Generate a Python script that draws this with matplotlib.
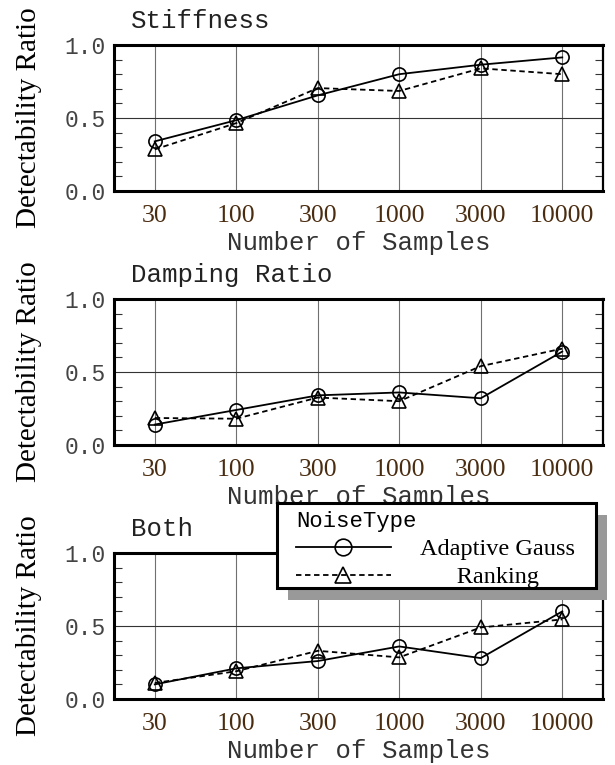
import numpy as np
import matplotlib
matplotlib.use("Agg")
import matplotlib.pyplot as plt
from matplotlib.lines import Line2D
from matplotlib.patches import Rectangle

# ---- data ----
sample_labels = ["30", "100", "300", "1000", "3000", "10000"]
panel_titles = ["Stiffness", "Damping Ratio", "Both"]

gauss_stiffness = [0.34, 0.485, 0.655, 0.80, 0.865, 0.915]
ranking_stiffness = [0.285, 0.465, 0.705, 0.685, 0.84, 0.80]

gauss_damping = [0.14, 0.24, 0.34, 0.36, 0.32, 0.64]
ranking_damping = [0.185, 0.18, 0.325, 0.30, 0.54, 0.66]

gauss_both = [0.10, 0.21, 0.26, 0.36, 0.28, 0.60]
ranking_both = [0.11, 0.19, 0.33, 0.285, 0.49, 0.545]

series = [
    (gauss_stiffness, ranking_stiffness),
    (gauss_damping, ranking_damping),
    (gauss_both, ranking_both),
]

MONO = "Liberation Mono"
SERIF = "Liberation Serif"
W, H = 615, 765

GAUSS_STYLE = dict(ls="-", color="black", lw=1.3, marker="o", ms=9.5,
                   mfc="none", mec="black", mew=1.2)
RANK_STYLE = dict(ls="--", color="black", lw=1.3, marker="^", ms=9.5,
                  mfc="none", mec="black", mew=1.2, dashes=(3, 2))

fig = plt.figure(figsize=(W / 100, H / 100), dpi=100)

# axes boxes in pixels: (left, top, right, bottom)
boxes = [(114, 45, 603, 191), (114, 299, 603, 445), (114, 553, 603, 699)]

x = np.arange(len(sample_labels))
for (l, t, r, b), title, (g, rk) in zip(boxes, panel_titles, series):
    ax = fig.add_axes([l / W, 1 - b / H, (r - l) / W, (b - t) / H])
    ax.plot(x, g, zorder=3, **GAUSS_STYLE)
    ax.plot(x, rk, zorder=3, **RANK_STYLE)
    ax.set_xlim(-0.5, 5.5)
    ax.set_ylim(0, 1.0)
    ax.set_xticks(x)
    ax.set_xticklabels(sample_labels, family=SERIF, fontsize=18.5, color="#4a2c10")
    ax.set_yticks([0.0, 0.5, 1.0])
    ax.set_yticklabels(["0.0", "0.5", "1.0"], family=MONO, fontsize=16.5, color="#444444")
    ax.set_yticks(np.arange(0.1, 1.0, 0.1), minor=True)
    ax.tick_params(axis="x", which="major", length=0, pad=10)
    ax.tick_params(axis="y", which="major", length=0, pad=6)
    ax.tick_params(axis="y", which="minor", direction="in", length=6,
                   left=True, right=True, color="#333333", width=0.8)
    for xv in x:
        ax.axvline(xv, color="#707070", lw=0.8, zorder=1)
    ax.axhline(0.5, color="#333333", lw=0.8, zorder=1)
    for side, lw in [("top", 2.2), ("left", 2.2), ("bottom", 2.2), ("right", 1.6)]:
        ax.spines[side].set_linewidth(lw)
        ax.spines[side].set_color("black")
    ax.set_xlabel("Number of Samples", family=MONO, fontsize=18.5, color="#333333",
                  labelpad=3)
    ax.set_ylabel("Detectability Ratio", family=SERIF, fontsize=21, labelpad=16)
    ax.text(0.035, 1.165, title, transform=ax.transAxes, family=MONO, fontsize=18.5,
            color="#222222", ha="left", va="center")

# legend frame with offset shadow, drawn over the middle and bottom panels
lx0, ly0, lx1, ly1 = 277, 503, 596, 588
fig.patches.append(Rectangle(((lx0 + 11) / W, 1 - (ly1 + 12) / H),
                             (lx1 - lx0) / W, (ly1 - ly0) / H,
                             transform=fig.transFigure, facecolor="#999999",
                             edgecolor="none", zorder=4))
fig.patches.append(Rectangle((lx0 / W, 1 - ly1 / H),
                             (lx1 - lx0) / W, (ly1 - ly0) / H,
                             transform=fig.transFigure, facecolor="white",
                             edgecolor="black", lw=2.2, zorder=4.5))
handles = [Line2D([], [], **{**GAUSS_STYLE, "ms": 12}),
           Line2D([], [], **{**RANK_STYLE, "ms": 12})]
leg = fig.legend(handles, ["Adaptive Gauss", "      Ranking"], loc="upper left",
                 bbox_to_anchor=(296 / W, 1 - 511 / H), frameon=False,
                 handlelength=3.9, handletextpad=1.2, borderpad=0, borderaxespad=0,
                 labelspacing=0.25,
                 prop={"family": SERIF, "size": 17.5},
                 title="NoiseType", title_fontproperties={"family": MONO, "size": 16})
leg._legend_box.align = "left"
leg.set_zorder(5)

fig.savefig("out.png", dpi=100)
